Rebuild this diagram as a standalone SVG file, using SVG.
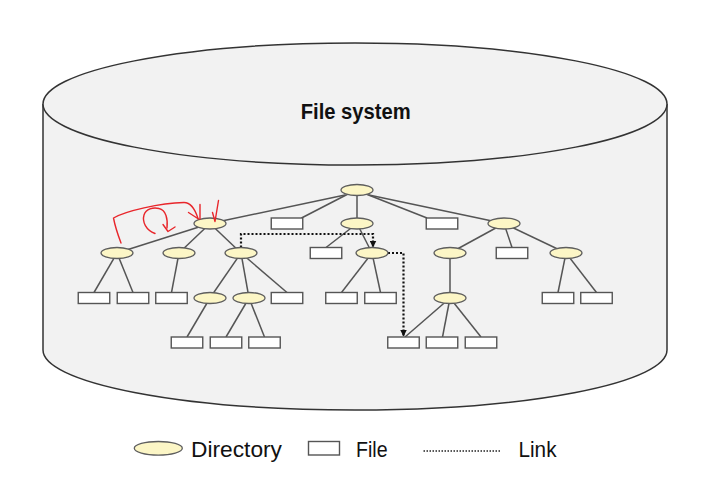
<svg xmlns="http://www.w3.org/2000/svg" width="715" height="486" viewBox="0 0 715 486">
<style>
.cyl{fill:#f2f2f2;stroke:#333;stroke-width:1.5}
.dir{fill:#fcf6c6;stroke:#5e5e5e;stroke-width:1.3}
.file{fill:#fff;stroke:#555;stroke-width:1.4}
.edge{stroke:#555;stroke-width:1.5;fill:none}
.link{stroke:#111;stroke-width:2.2;stroke-dasharray:2 2;fill:none}
.red{stroke:#e8262b;stroke-width:1.4;fill:none;stroke-linecap:round;stroke-linejoin:round}
.lbl{font-family:"Liberation Sans",Arial,sans-serif;font-size:22px;fill:#111}
</style>
<defs>
<marker id="arr" viewBox="0 0 8 8" refX="8" refY="4" markerWidth="7" markerHeight="7" markerUnits="userSpaceOnUse" orient="auto">
<path d="M0,0 L8,4 L0,8 z" fill="#111"/>
</marker>
</defs>
<rect width="715" height="486" fill="#fff"/>
<g id="cylinder">
<path class="cyl" d="M43,104 V350 A312,60 0 0 0 667,350 V104"/>
<ellipse class="cyl" cx="355" cy="104" rx="312" ry="61"/>
<text x="355.7" y="119" text-anchor="middle" class="lbl" font-weight="bold" font-size="24" textLength="110" lengthAdjust="spacingAndGlyphs">File system</text>
</g>
<g id="connectors">
<line class="edge" x1="345" y1="195" x2="210" y2="223.5"/>
<line class="edge" x1="348" y1="194" x2="301.5" y2="218"/>
<line class="edge" x1="357" y1="195" x2="357" y2="218"/>
<line class="edge" x1="366" y1="194" x2="427" y2="218"/>
<line class="edge" x1="369" y1="195" x2="504" y2="223.5"/>
<line class="edge" x1="210" y1="223.5" x2="117" y2="253"/>
<line class="edge" x1="210" y1="223.5" x2="179" y2="253"/>
<line class="edge" x1="210" y1="223.5" x2="241" y2="253"/>
<line class="edge" x1="357" y1="223.5" x2="326" y2="247.5"/>
<line class="edge" x1="357" y1="223.5" x2="372" y2="253"/>
<line class="edge" x1="504" y1="223.5" x2="450" y2="253"/>
<line class="edge" x1="504" y1="223.5" x2="512" y2="247.5"/>
<line class="edge" x1="504" y1="223.5" x2="566" y2="253"/>
<line class="edge" x1="117" y1="253" x2="94" y2="292.5"/>
<line class="edge" x1="117" y1="253" x2="133" y2="292.5"/>
<line class="edge" x1="179" y1="253" x2="171.5" y2="292.5"/>
<line class="edge" x1="241" y1="253" x2="210" y2="298"/>
<line class="edge" x1="241" y1="253" x2="249" y2="298"/>
<line class="edge" x1="241" y1="253" x2="287" y2="292.5"/>
<line class="edge" x1="372" y1="253" x2="341.5" y2="292.5"/>
<line class="edge" x1="372" y1="253" x2="380.5" y2="292.5"/>
<line class="edge" x1="450" y1="253" x2="450" y2="298"/>
<line class="edge" x1="566" y1="253" x2="558" y2="292.5"/>
<line class="edge" x1="566" y1="253" x2="596.5" y2="292.5"/>
<line class="edge" x1="210" y1="298" x2="187" y2="337"/>
<line class="edge" x1="249" y1="298" x2="226" y2="337"/>
<line class="edge" x1="249" y1="298" x2="264.5" y2="337"/>
<line class="edge" x1="450" y1="298" x2="405" y2="337"/>
<line class="edge" x1="450" y1="298" x2="442.5" y2="337"/>
<line class="edge" x1="450" y1="298" x2="481" y2="337"/>
<path class="link" d="M241,247.5 V234 H373 V247.5" marker-end="url(#arr)"/>
<path class="link" d="M388,253 H403.5 V336.5" marker-end="url(#arr)"/>
</g>
<g id="directories">
<ellipse id="d0" class="dir" cx="357" cy="190" rx="16" ry="5.5"/>
<ellipse id="d1" class="dir" cx="210" cy="223.5" rx="16" ry="5.5"/>
<ellipse id="d2" class="dir" cx="357" cy="223.5" rx="16" ry="5.5"/>
<ellipse id="d3" class="dir" cx="504" cy="223.5" rx="16" ry="5.5"/>
<ellipse id="d4" class="dir" cx="117" cy="253" rx="16" ry="5.5"/>
<ellipse id="d5" class="dir" cx="179" cy="253" rx="16" ry="5.5"/>
<ellipse id="d6" class="dir" cx="241" cy="253" rx="16" ry="5.5"/>
<ellipse id="d7" class="dir" cx="372" cy="253" rx="16" ry="5.5"/>
<ellipse id="d8" class="dir" cx="450" cy="253" rx="16" ry="5.5"/>
<ellipse id="d9" class="dir" cx="566" cy="253" rx="16" ry="5.5"/>
<ellipse id="d10" class="dir" cx="210" cy="298" rx="16" ry="5.5"/>
<ellipse id="d11" class="dir" cx="249" cy="298" rx="16" ry="5.5"/>
<ellipse id="d12" class="dir" cx="450" cy="298" rx="16" ry="5.5"/>
</g>
<g id="files">
<rect id="f1" class="file" x="271.25" y="218" width="31.5" height="11"/>
<rect id="f2" class="file" x="426.25" y="218" width="31.5" height="11"/>
<rect id="f3" class="file" x="310.25" y="247.5" width="31.5" height="11"/>
<rect id="f4" class="file" x="496.25" y="247.5" width="31.5" height="11"/>
<rect id="f5" class="file" x="78.25" y="292.5" width="31.5" height="11"/>
<rect id="f6" class="file" x="117.25" y="292.5" width="31.5" height="11"/>
<rect id="f7" class="file" x="155.75" y="292.5" width="31.5" height="11"/>
<rect id="f8" class="file" x="271.25" y="292.5" width="31.5" height="11"/>
<rect id="f9" class="file" x="325.75" y="292.5" width="31.5" height="11"/>
<rect id="f10" class="file" x="364.75" y="292.5" width="31.5" height="11"/>
<rect id="f11" class="file" x="542.25" y="292.5" width="31.5" height="11"/>
<rect id="f12" class="file" x="580.75" y="292.5" width="31.5" height="11"/>
<rect id="f13" class="file" x="171.25" y="337" width="31.5" height="11"/>
<rect id="f14" class="file" x="210.25" y="337" width="31.5" height="11"/>
<rect id="f15" class="file" x="248.75" y="337" width="31.5" height="11"/>
<rect id="f16" class="file" x="387.75" y="337" width="31.5" height="11"/>
<rect id="f17" class="file" x="426.25" y="337" width="31.5" height="11"/>
<rect id="f18" class="file" x="465.25" y="337" width="31.5" height="11"/>
</g>
<g id="annotations">
<path class="red" d="M121,243 C118,235 115,226 113.5,218 C125,211 160,203 184,202.5 C191,202.5 195,209 198,218.5"/>
<path class="red" d="M188.5,212.5 L198.5,219 M200,204.5 L200,219"/>
<path class="red" d="M218.5,200.5 L215,221.5 M212.5,212.5 L215,221.5"/>
<path class="red" d="M155,233.5 C146,230 142,222 144,215 C146,209 153,207 159,208.5 C166,210 168,219 167,228"/>
<path class="red" d="M163,224.5 L168,231.5 L175,227"/>
</g>
<g id="legend">
<ellipse class="dir" cx="158.3" cy="448.3" rx="24" ry="6.8"/>
<text x="191" y="457" class="lbl" textLength="91" lengthAdjust="spacingAndGlyphs">Directory</text>
<rect class="file" x="308.5" y="441.5" width="31" height="13.5"/>
<text x="356" y="457" class="lbl" textLength="31.5" lengthAdjust="spacingAndGlyphs">File</text>
<line x1="423.5" y1="451" x2="500" y2="451" stroke="#222" stroke-width="1.4" stroke-dasharray="1.5 1.5"/>
<text x="518.5" y="457" class="lbl" textLength="38" lengthAdjust="spacingAndGlyphs">Link</text>
</g>
</svg>
